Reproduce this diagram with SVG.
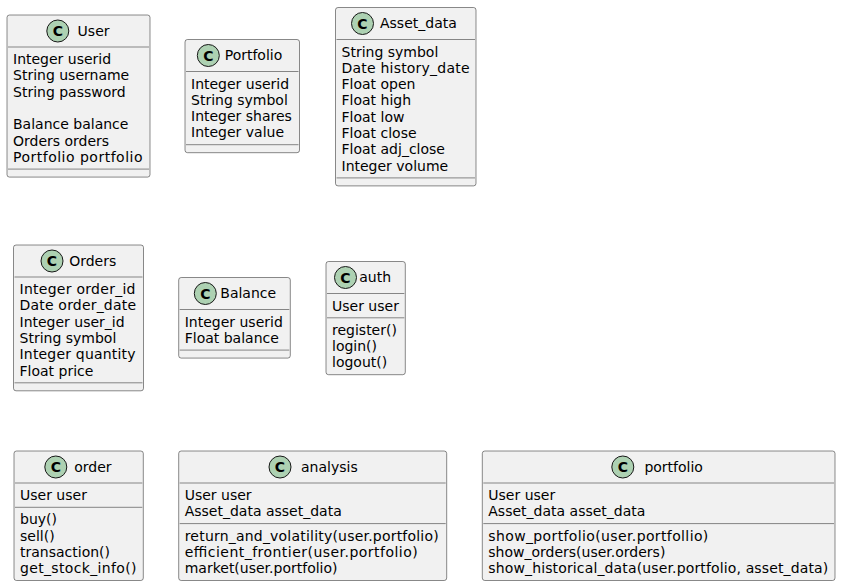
<svg xmlns="http://www.w3.org/2000/svg" width="842" height="586" viewBox="0 0 842 586">
<style>
  .box { fill: #F1F1F1; stroke: #181818; stroke-width: 0.5; }
  .sep { stroke: #181818; stroke-width: 0.5; }
  .spot { fill: #ADD1B2; stroke: #181818; stroke-width: 1; }
  .spotc { font-family: "DejaVu Sans", sans-serif; font-size: 14px; font-weight: bold; fill: #000; text-anchor: middle; }
  .name { font-family: "DejaVu Sans", sans-serif; font-size: 14px; fill: #000; }
  .t { font-family: "DejaVu Sans", sans-serif; font-size: 14px; fill: #000; }
</style>
<rect x="0" y="0" width="842" height="586" fill="#FFFFFF"/>

<g id="User">
  <rect class="box" x="7" y="15" width="143" height="162.1" rx="2.5" ry="2.5"/>
  <circle class="spot" cx="57.8" cy="31" r="11"/>
  <text class="spotc" x="57.8" y="36">C</text>
  <text class="name" x="77.6" y="35.85">User</text>
  <line class="sep" x1="8" y1="47" x2="149" y2="47"/>
  <text class="t" x="13" y="64">Integer userid</text>
  <text class="t" x="13" y="80.3">String username</text>
  <text class="t" x="13" y="96.6">String password</text>
  <text class="t" x="13" y="129.2">Balance balance</text>
  <text class="t" x="13" y="145.5">Orders orders</text>
  <text class="t" x="13" y="161.8" textLength="129.5" lengthAdjust="spacing">Portfolio portfolio</text>
  <line class="sep" x1="8" y1="169.1" x2="149" y2="169.1"/>
</g>

<g id="Portfolio">
  <rect class="box" x="185" y="39.5" width="114.5" height="113.2" rx="2.5" ry="2.5"/>
  <circle class="spot" cx="208.3" cy="55.5" r="11"/>
  <text class="spotc" x="208.3" y="60.5">C</text>
  <text class="name" x="224.7" y="60.35">Portfolio</text>
  <line class="sep" x1="186" y1="71.5" x2="298.5" y2="71.5"/>
  <text class="t" x="191" y="88.5">Integer userid</text>
  <text class="t" x="191" y="104.8">String symbol</text>
  <text class="t" x="191" y="121.1">Integer shares</text>
  <text class="t" x="191" y="137.4">Integer value</text>
  <line class="sep" x1="186" y1="144.7" x2="298.5" y2="144.7"/>
</g>

<g id="Asset_data">
  <rect class="box" x="335.5" y="7.5" width="140.5" height="178.4" rx="2.5" ry="2.5"/>
  <circle class="spot" cx="362.5" cy="23.5" r="11"/>
  <text class="spotc" x="362.5" y="28.5">C</text>
  <text class="name" x="380" y="28.35">Asset_data</text>
  <line class="sep" x1="336.5" y1="39.5" x2="475" y2="39.5"/>
  <text class="t" x="341.5" y="56.5">String symbol</text>
  <text class="t" x="341.5" y="72.8" textLength="128" lengthAdjust="spacing">Date history_date</text>
  <text class="t" x="341.5" y="89.1">Float open</text>
  <text class="t" x="341.5" y="105.4">Float high</text>
  <text class="t" x="341.5" y="121.7">Float low</text>
  <text class="t" x="341.5" y="138">Float close</text>
  <text class="t" x="341.5" y="154.3">Float adj_close</text>
  <text class="t" x="341.5" y="170.6">Integer volume</text>
  <line class="sep" x1="336.5" y1="177.9" x2="475" y2="177.9"/>
</g>

<g id="Orders">
  <rect class="box" x="13.5" y="245" width="130" height="145.8" rx="2.5" ry="2.5"/>
  <circle class="spot" cx="52" cy="261" r="11"/>
  <text class="spotc" x="52" y="266">C</text>
  <text class="name" x="69.2" y="265.85">Orders</text>
  <line class="sep" x1="14.5" y1="277" x2="142.5" y2="277"/>
  <text class="t" x="19.5" y="294" textLength="116" lengthAdjust="spacing">Integer order_id</text>
  <text class="t" x="19.5" y="310.3" textLength="116.5" lengthAdjust="spacing">Date order_date</text>
  <text class="t" x="19.5" y="326.6">Integer user_id</text>
  <text class="t" x="19.5" y="342.9">String symbol</text>
  <text class="t" x="19.5" y="359.2" textLength="116" lengthAdjust="spacing">Integer quantity</text>
  <text class="t" x="19.5" y="375.5">Float price</text>
  <line class="sep" x1="14.5" y1="382.8" x2="142.5" y2="382.8"/>
</g>

<g id="Balance">
  <rect class="box" x="178.7" y="277.5" width="111.6" height="80.6" rx="2.5" ry="2.5"/>
  <circle class="spot" cx="205.3" cy="293.5" r="11"/>
  <text class="spotc" x="205.3" y="298.5">C</text>
  <text class="name" x="220.3" y="298.35">Balance</text>
  <line class="sep" x1="179.7" y1="309.5" x2="289.3" y2="309.5"/>
  <text class="t" x="184.7" y="326.5">Integer userid</text>
  <text class="t" x="184.7" y="342.8">Float balance</text>
  <line class="sep" x1="179.7" y1="350.1" x2="289.3" y2="350.1"/>
</g>

<g id="auth">
  <rect class="box" x="326" y="261.5" width="79.3" height="113.2" rx="2.5" ry="2.5"/>
  <circle class="spot" cx="345.5" cy="277.5" r="11"/>
  <text class="spotc" x="345.5" y="282.5">C</text>
  <text class="name" x="359.2" y="282.35">auth</text>
  <line class="sep" x1="327" y1="293.5" x2="404.3" y2="293.5"/>
  <text class="t" x="332" y="310.5">User user</text>
  <line class="sep" x1="327" y1="317.8" x2="404.3" y2="317.8"/>
  <text class="t" x="332" y="334.8">register()</text>
  <text class="t" x="332" y="351.1">login()</text>
  <text class="t" x="332" y="367.4">logout()</text>
</g>

<g id="order">
  <rect class="box" x="14" y="451" width="129.3" height="129.5" rx="2.5" ry="2.5"/>
  <circle class="spot" cx="55.8" cy="467" r="11"/>
  <text class="spotc" x="55.8" y="472">C</text>
  <text class="name" x="74.2" y="471.85">order</text>
  <line class="sep" x1="15" y1="483" x2="142.3" y2="483"/>
  <text class="t" x="20" y="500">User user</text>
  <line class="sep" x1="15" y1="507.3" x2="142.3" y2="507.3"/>
  <text class="t" x="20" y="524.3">buy()</text>
  <text class="t" x="20" y="540.6">sell()</text>
  <text class="t" x="20" y="556.9">transaction()</text>
  <text class="t" x="20" y="573.2" textLength="116.5" lengthAdjust="spacing">get_stock_info()</text>
</g>

<g id="analysis">
  <rect class="box" x="178.7" y="451" width="268" height="129.5" rx="2.5" ry="2.5"/>
  <circle class="spot" cx="280" cy="467" r="11"/>
  <text class="spotc" x="280" y="472">C</text>
  <text class="name" x="301" y="471.85">analysis</text>
  <line class="sep" x1="179.7" y1="483" x2="445.7" y2="483"/>
  <text class="t" x="184.7" y="500">User user</text>
  <text class="t" x="184.7" y="516.3">Asset_data asset_data</text>
  <line class="sep" x1="179.7" y1="523.6" x2="445.7" y2="523.6"/>
  <text class="t" x="184.7" y="540.6" textLength="254" lengthAdjust="spacing">return_and_volatility(user.portfolio)</text>
  <text class="t" x="184.7" y="556.9" textLength="233" lengthAdjust="spacing">efficient_frontier(user.portfolio)</text>
  <text class="t" x="184.7" y="573.2">market(user.portfolio)</text>
</g>

<g id="portfolio">
  <rect class="box" x="482.3" y="451" width="352.7" height="129.5" rx="2.5" ry="2.5"/>
  <circle class="spot" cx="622.8" cy="467" r="11"/>
  <text class="spotc" x="622.8" y="472">C</text>
  <text class="name" x="644.4" y="471.85">portfolio</text>
  <line class="sep" x1="483.3" y1="483" x2="834" y2="483"/>
  <text class="t" x="488.3" y="500">User user</text>
  <text class="t" x="488.3" y="516.3">Asset_data asset_data</text>
  <line class="sep" x1="483.3" y1="523.6" x2="834" y2="523.6"/>
  <text class="t" x="488.3" y="540.6" textLength="220" lengthAdjust="spacing">show_portfolio(user.portfollio)</text>
  <text class="t" x="488.3" y="556.9">show_orders(user.orders)</text>
  <text class="t" x="488.3" y="573.2" textLength="340" lengthAdjust="spacing">show_historical_data(user.portfolio, asset_data)</text>
</g>

<g id="connectors"></g>
</svg>
